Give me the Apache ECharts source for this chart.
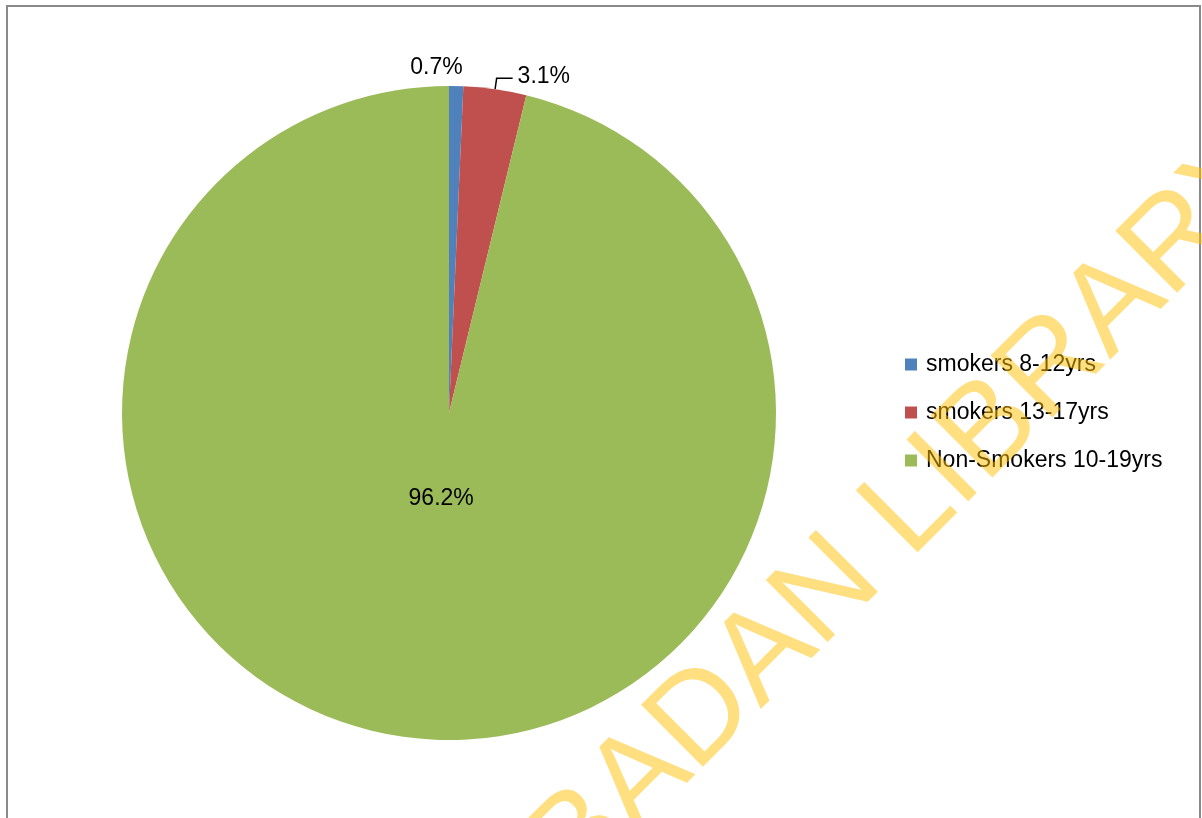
<!DOCTYPE html>
<html>
<head>
<meta charset="utf-8">
<script src="https://cdn.jsdelivr.net/npm/echarts@6/dist/echarts.min.js"></script>
<style>
html,body{margin:0;padding:0;background:#fff;}
#chart{width:1202px;height:818px;}
</style>
</head>
<body>
<div id="chart"></div>
<script>
const categories = ['smokers 8-12yrs', 'smokers 13-17yrs', 'Non-Smokers 10-19yrs'];
const values = [0.7, 3.1, 96.2];
const colors = ['#4F81BD', '#C0504D', '#9BBB59'];
const watermark = 'IBADAN LIBRARY';

const FONT = '"Liberation Sans", Arial, sans-serif';
const chart = echarts.init(document.getElementById('chart'));

const data = categories.map((c, i) => ({
  name: c,
  value: values[i],
  itemStyle: { color: colors[i] },
  label: i === 2 ? { position: 'inside' } : { position: 'outside' },
  labelLine: i === 0 ? { show: false, length: 2, length2: 0 } : { show: i === 1, length: 11, length2: 16 }
}));

const labelShift = [[-51, -16], [0, -2], [12, -80]];

chart.setOption({
  animation: false,
  backgroundColor: '#fff',
  graphic: [
    {
      type: 'rect', z: 0,
      shape: { x: 7, y: 6, width: 1193, height: 840 },
      style: { fill: 'none', stroke: '#8a8a8a', lineWidth: 2 }
    },
    {
      type: 'text', z: 1,
      x: 571, y: 939, rotation: Math.PI / 4,
      style: {
        text: watermark,
        font: '127px ' + FONT,
        fill: 'rgba(255,192,0,0.5)',
        textAlign: 'left',
        textVerticalAlign: 'bottom'
      }
    }
  ],
  legend: {
    orient: 'vertical',
    left: 900,
    top: 348,
    z: 0,
    itemWidth: 12,
    itemHeight: 12,
    itemGap: 25,
    icon: 'rect',
    textStyle: { fontFamily: FONT, fontSize: 23, color: '#000', padding: [0, 0, 0, 4] },
    data: categories
  },
  series: [{
    type: 'pie',
    z: 2,
    center: [449, 413],
    radius: 327,
    startAngle: 90,
    clockwise: true,
    avoidLabelOverlap: false,
    data: data,
    label: {
      show: true,
      formatter: p => p.value.toFixed(1) + '%',
      fontFamily: FONT,
      fontSize: 23,
      color: '#000'
    },
    labelLine: { lineStyle: { color: '#000', width: 1.5 } },
    labelLayout: function (p) {
      const s = labelShift[p.dataIndex];
      return { dx: s[0], dy: s[1] };
    }
  }]
});
</script>
</body>
</html>
